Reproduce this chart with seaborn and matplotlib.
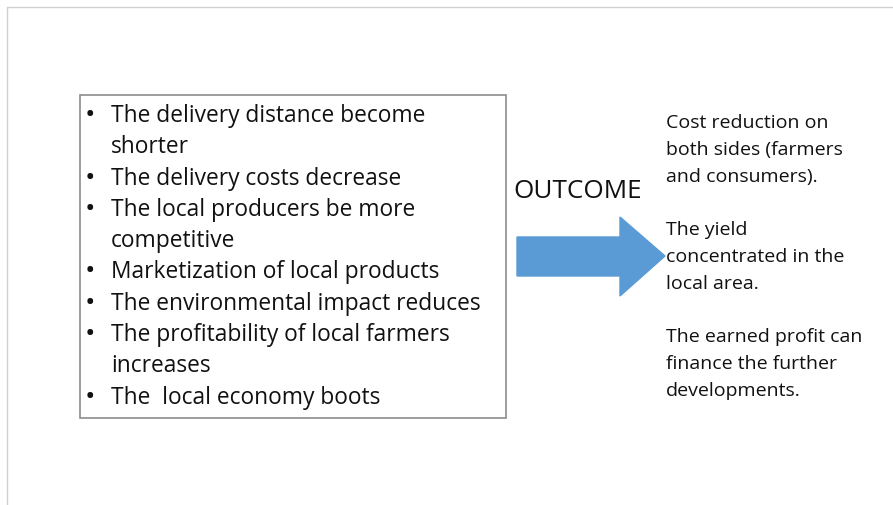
import matplotlib
matplotlib.use("Agg")
import matplotlib.pyplot as plt
import matplotlib.patches as mpatches
import seaborn as sns

sns.set_theme(style="white")
plt.rcParams["font.family"] = ["Open Sans", "DejaVu Sans"]

###-------CONTENT------###
bullet_lines = [
    ("The delivery distance become", True),
    ("shorter", False),
    ("The delivery costs decrease", True),
    ("The local producers be more", True),
    ("competitive", False),
    ("Marketization of local products", True),
    ("The environmental impact reduces", True),
    ("The profitability of local farmers", True),
    ("increases", False),
    ("The  local economy boots", True),
]
outcome_label = "OUTCOME"
outcome_lines = [
    "Cost reduction on", "both sides (farmers", "and consumers).", "",
    "The yield", "concentrated in the", "local area.", "",
    "The earned profit can", "finance the further", "developments.",
]

###-------FIGURE------###
fig = plt.figure(figsize=(8.93, 5.06), dpi=100)
ax = fig.add_axes([0, 0, 1, 1])
ax.set_xlim(0, 893)
ax.set_ylim(506, 0)
ax.axis("off")

# slide frame (top and left edges visible)
ax.plot([7, 893], [8, 8], color="#d0d0d0", lw=1)
ax.plot([7, 7], [8, 506], color="#d0d0d0", lw=1)

# bullet box
ax.add_patch(mpatches.Rectangle((80, 96), 426, 323, fill=False,
                                edgecolor="#8c8c8c", lw=1.2))
y0, dy = 116, 31.3
for i, (txt, bullet) in enumerate(bullet_lines):
    y = y0 + i * dy
    if bullet:
        ax.text(85, y, "\u2022", fontsize=20, va="center", ha="left", color="#111111")
    ax.text(111, y, txt, fontsize=16.4, va="center", ha="left", color="#111111")

# outcome label and arrow
ax.text(513, 191, outcome_label, fontsize=18.8, va="center", ha="left", color="#111111")
ax.add_patch(mpatches.Polygon([(517, 238), (620, 238), (620, 218), (665, 257),
                               (620, 297), (620, 277), (517, 277)],
                              closed=True, facecolor="#5b9bd5", edgecolor="#5b9bd5"))

# outcome text
ry0, rdy = 123, 26.8
for i, txt in enumerate(outcome_lines):
    ax.text(666, ry0 + i * rdy, txt, fontsize=14, va="center", ha="left", color="#111111")

fig.savefig("out.png", dpi=100)
